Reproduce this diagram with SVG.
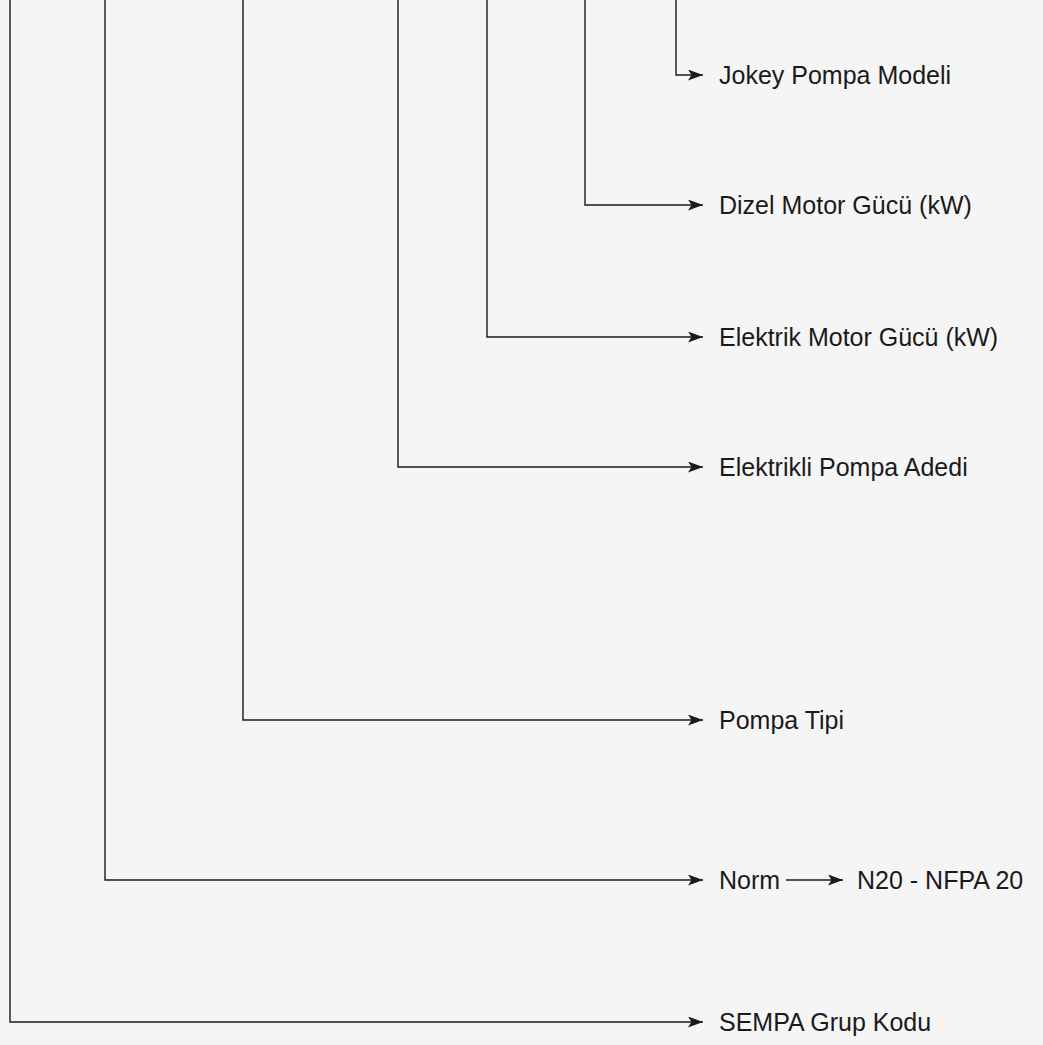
<svg xmlns="http://www.w3.org/2000/svg" width="1043" height="1045" viewBox="0 0 1043 1045">
<defs>
<marker id="arr" viewBox="0 0 15 11" refX="15" refY="5.5" markerWidth="15" markerHeight="11" markerUnits="userSpaceOnUse" orient="auto">
<path d="M0,0 L15,5.5 L0,11 L3.5,5.5 Z" fill="#1a1a1a"/>
</marker>
<style>
.c{fill:none;stroke:#1a1a1a;stroke-width:1.4}
.t{font-family:"Liberation Sans",Arial,sans-serif;font-size:25px;fill:#1a1a1a}
</style>
</defs>
<rect width="1043" height="1045" fill="#f5f5f5"/>
<g id="connectors">
<path class="c" d="M676,0 V75 H703" marker-end="url(#arr)"/>
<path class="c" d="M585,0 V205 H703" marker-end="url(#arr)"/>
<path class="c" d="M487,0 V337 H703" marker-end="url(#arr)"/>
<path class="c" d="M398,0 V467 H703" marker-end="url(#arr)"/>
<path class="c" d="M243,0 V720 H703" marker-end="url(#arr)"/>
<path class="c" d="M105,0 V880 H703" marker-end="url(#arr)"/>
<path class="c" d="M10,0 V1022 H703" marker-end="url(#arr)"/>
<path class="c" d="M786,880 H843" marker-end="url(#arr)"/>
</g>
<g id="n1"><text class="t" x="719" y="84">Jokey Pompa Modeli</text></g>
<g id="n2"><text class="t" x="719" y="214">Dizel Motor Gücü (kW)</text></g>
<g id="n3"><text class="t" x="719" y="346">Elektrik Motor Gücü (kW)</text></g>
<g id="n4"><text class="t" x="719" y="476">Elektrikli Pompa Adedi</text></g>
<g id="n5"><text class="t" x="719" y="729">Pompa Tipi</text></g>
<g id="n6"><text class="t" x="719" y="889">Norm</text></g>
<g id="n7"><text class="t" x="857" y="889">N20 - NFPA 20</text></g>
<g id="n8"><text class="t" x="719" y="1031">SEMPA Grup Kodu</text></g>
</svg>
